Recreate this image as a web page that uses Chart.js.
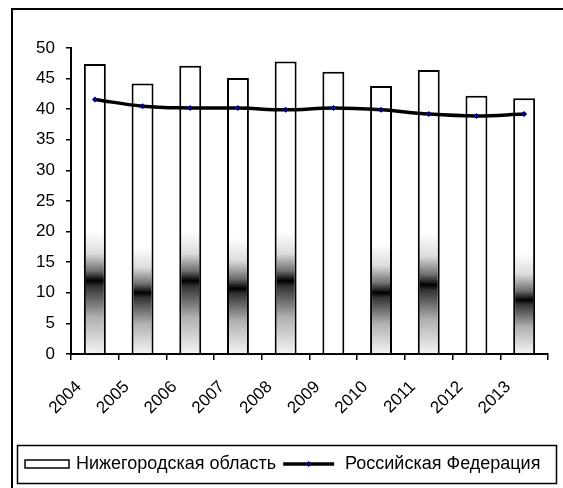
<!DOCTYPE html>
<html>
<head>
<meta charset="utf-8">
<script src="https://cdn.jsdelivr.net/npm/chart.js@4"></script>
<style>
  html, body { margin: 0; padding: 0; background: #fff; overflow: hidden; }
</style>
</head>
<body>
<canvas id="chart" width="563" height="488"></canvas>
<script>
// Data
var years = ["2004", "2005", "2006", "2007", "2008", "2009", "2010", "2011", "2012", "2013"];
var nizhny = [47.4, 44.2, 47.1, 45.1, 47.8, 46.1, 43.8, 46.4, 42.2, 41.8];
var russia = [41.6, 40.5, 40.2, 40.2, 39.9, 40.2, 39.9, 39.2, 38.9, 39.2];
var yTicks = [0, 5, 10, 15, 20, 25, 30, 35, 40, 45, 50];

// bar shading (style only): top of the dark band and its darkest point, in axis units
var shadeTop = [20, 17.5, 20, 19, 20, null, 18, 19.8, null, 16.5];
var shadeMid = [12, 10, 12, 10.7, 12, null, 10, 11.3, null, 8.8];

var FONT = "'Liberation Sans', Arial, sans-serif";
var AXIS_SIZE = 17;
var LEGEND_SIZE = 18;

function barFill(ctx) {
  var chart = ctx.chart;
  var i = ctx.dataIndex;
  if (!chart.chartArea || shadeTop[i] == null) return "#ffffff";
  var y = chart.scales.y;
  var top = y.getPixelForValue(shadeTop[i]);
  var bottom = y.getPixelForValue(0);
  var mid = (y.getPixelForValue(shadeMid[i]) - top) / (bottom - top);
  var g = chart.ctx.createLinearGradient(0, top, 0, bottom);
  g.addColorStop(0, "#ffffff");
  g.addColorStop(mid * 0.45, "#dcdcdc");
  g.addColorStop(mid * 0.8, "#707070");
  g.addColorStop(mid, "#000000");
  g.addColorStop(mid + (1 - mid) * 0.08, "#333333");
  g.addColorStop(mid + (1 - mid) * 0.5, "#b0b0b0");
  g.addColorStop(1, "#f4f4f4");
  return g;
}

// white page and outer frame
var framePlugin = {
  id: "frame",
  beforeDraw: function(chart) {
    var c = chart.ctx;
    c.save();
    c.fillStyle = "#fff";
    c.fillRect(0, 0, chart.width, chart.height);
    c.strokeStyle = "#000";
    c.lineWidth = 2;
    c.beginPath();
    c.moveTo(12, chart.height);
    c.lineTo(12, 9);
    c.lineTo(chart.width, 9);
    c.stroke();
    c.restore();
  }
};

// legend in a box, like the spreadsheet one
var legendPlugin = {
  id: "boxLegend",
  afterDraw: function(chart) {
    var c = chart.ctx;
    var ds = chart.data.datasets;
    var cy = 464;
    c.save();
    c.strokeStyle = "#000";
    c.lineWidth = 1.5;
    c.strokeRect(17.5, 445.5, 539, 38);

    c.font = LEGEND_SIZE + "px " + FONT;
    c.textBaseline = "middle";

    var x = 25;
    c.fillStyle = "#fff";
    c.fillRect(x, cy - 4, 44, 8);
    c.strokeRect(x, cy - 4, 44, 8);
    x += 51;
    c.fillStyle = "#000";
    c.fillText(ds[1].label, x, cy);
    x += c.measureText(ds[1].label).width + 7;

    c.lineWidth = 3.5;
    c.beginPath();
    c.moveTo(x, cy);
    c.lineTo(x + 51, cy);
    c.stroke();
    c.fillStyle = "#000080";
    c.beginPath();
    c.moveTo(x + 25.5, cy - 3);
    c.lineTo(x + 28.5, cy);
    c.lineTo(x + 25.5, cy + 3);
    c.lineTo(x + 22.5, cy);
    c.closePath();
    c.fill();
    x += 62;
    c.fillStyle = "#000";
    c.fillText(ds[0].label, x, cy);
    c.restore();
  }
};

new Chart(document.getElementById("chart"), {
  type: "bar",
  data: {
    labels: years,
    datasets: [
      {
        type: "line",
        label: "Российская Федерация",
        data: russia,
        order: 0,
        borderColor: "#000",
        borderWidth: 3.5,
        tension: 0.4,
        pointStyle: "rectRot",
        pointRadius: 3,
        pointBorderWidth: 0,
        pointBackgroundColor: "#000080",
        pointBorderColor: "#000080"
      },
      {
        type: "bar",
        label: "Нижегородская область",
        data: nizhny,
        order: 1,
        backgroundColor: barFill,
        borderColor: "#000",
        borderWidth: 2,
        borderSkipped: "start",
        categoryPercentage: 1,
        barPercentage: 0.46
      }
    ]
  },
  options: {
    responsive: false,
    animation: false,
    devicePixelRatio: 1,
    layout: { padding: { left: 35, right: 15, top: 48, bottom: 54 } },
    plugins: {
      legend: { display: false },
      tooltip: { enabled: false }
    },
    scales: {
      x: {
        offset: true,
        grid: { offset: true, drawOnChartArea: false, drawTicks: true, tickLength: 6, color: "#000", lineWidth: 1.5 },
        border: { display: true, color: "#000", width: 2 },
        ticks: {
          color: "#000",
          font: { family: FONT, size: AXIS_SIZE },
          minRotation: 45,
          maxRotation: 45,
          padding: 17,
          labelOffset: -16,
          autoSkip: false
        },
        afterFit: function(scale) { scale.height = 80; }
      },
      y: {
        min: 0,
        max: 50,
        afterBuildTicks: function(scale) {
          scale.ticks = yTicks.map(function(v) { return { value: v }; });
        },
        grid: { drawOnChartArea: false, drawTicks: true, tickLength: 5, color: "#000", lineWidth: 1.5 },
        border: { display: true, color: "#000", width: 2 },
        ticks: {
          color: "#000",
          font: { family: FONT, size: AXIS_SIZE },
          padding: 11
        },
        afterFit: function(scale) { scale.width = 36; }
      }
    }
  },
  plugins: [framePlugin, legendPlugin]
});
</script>
</body>
</html>
